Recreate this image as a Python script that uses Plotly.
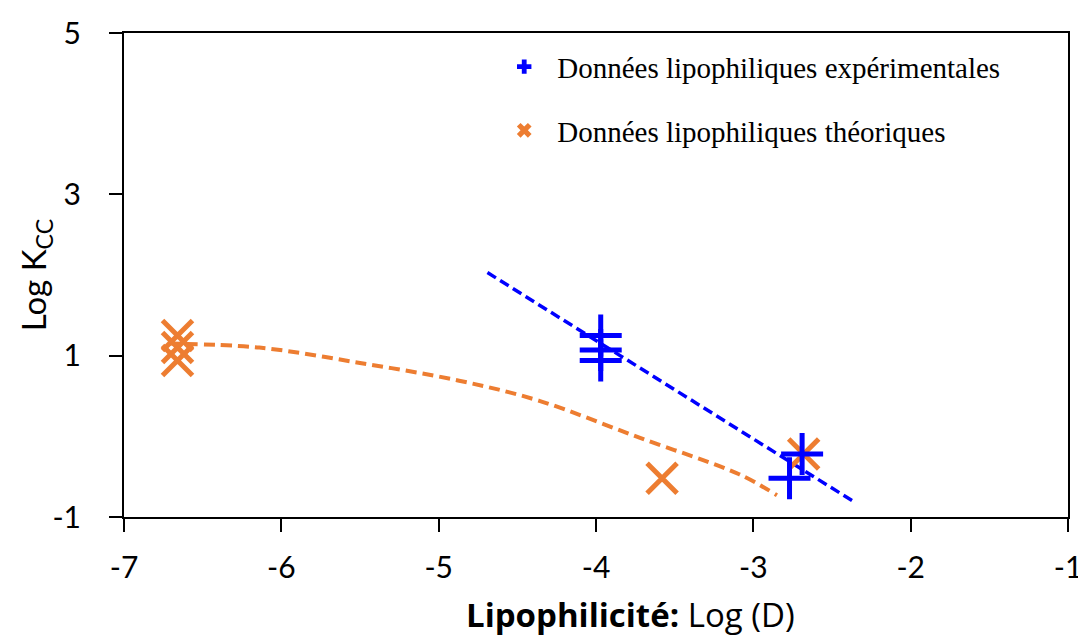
import plotly.graph_objects as go

# measured values
exp_x = [-3.97, -3.97, -3.97, -2.77, -2.69]
exp_y = [1.25, 1.07, 0.94, -0.52, -0.22]
theo_x = [-6.66, -6.66, -6.66, -3.58, -2.68]
theo_y = [1.25, 1.10, 0.94, -0.52, -0.22]

# trend lines
exp_fit_x = [-4.69, -2.37]
exp_fit_y = [2.03, -0.80]
theo_fit_x = [-6.71, -6.14, -5.50, -4.87, -4.36, -3.72, -3.09, -2.85]
theo_fit_y = [1.15, 1.10, 0.91, 0.69, 0.44, -0.02, -0.47, -0.73]

x_ticks = [-7, -6, -5, -4, -3, -2, -1]
x_tick_labels = ["-7", "-6", "-5", "-4", "-3", "-2", "-1"]
y_ticks = [-1, 1, 3, 5]
y_tick_labels = ["-1", "1", "3", "5"]

BLUE = "#0000FF"
ORANGE = "#ED7D31"
SANS = "Lato, 'Open Sans', sans-serif"
WIDE_SANS = "'Open Sans', Lato, sans-serif"
SERIF = "'Liberation Serif', 'Times New Roman', serif"

fig = go.Figure()

fig.add_scatter(
    x=theo_fit_x, y=theo_fit_y, mode="lines", line_shape="spline",
    line={"color": ORANGE, "width": 4, "dash": "11px,6px"}, showlegend=False,
)
fig.add_scatter(
    x=exp_fit_x, y=exp_fit_y, mode="lines",
    line={"color": BLUE, "width": 3.5, "dash": "10px,5px"}, showlegend=False,
)
fig.add_scatter(
    x=theo_x, y=theo_y, mode="markers", showlegend=False,
    marker={"symbol": "x-thin", "size": 30, "line": {"color": ORANGE, "width": 5}},
)
fig.add_scatter(
    x=exp_x, y=exp_y, mode="markers", showlegend=False,
    marker={"symbol": "cross-thin", "size": 30, "line": {"color": BLUE, "width": 5}},
)

# legend entries
fig.add_scatter(
    x=[None], y=[None], mode="markers", name="Données lipophiliques expérimentales",
    legendgroup="a", marker={"symbol": "cross", "size": 12, "color": BLUE, "line": {"width": 0}},
)
fig.add_scatter(
    x=[None], y=[None], mode="markers", name="Données lipophiliques théoriques",
    legendgroup="b", marker={"symbol": "x", "size": 13, "color": ORANGE, "line": {"width": 0}},
)

axis_common = dict(
    showline=True, linecolor="black", linewidth=2, mirror=True,
    ticks="outside", ticklen=13, tickwidth=2, tickcolor="black",
    showgrid=False, zeroline=False, automargin=False,
    tickfont={"family": SANS, "size": 30, "color": "black"},
)

fig.update_xaxes(range=[-7, -1], tickvals=x_ticks, ticktext=x_tick_labels,
                 ticklabelstandoff=10, **axis_common)
fig.update_yaxes(range=[-1, 5], tickvals=y_ticks, ticktext=y_tick_labels,
                 ticklabelstandoff=22, **axis_common)

# the page adds an 8px body margin, so the figure is 8px smaller
fig.update_layout(
    template="none",
    width=1078, height=629,
    margin={"l": 116, "r": 18, "t": 25, "b": 120},
    paper_bgcolor="white", plot_bgcolor="white",
    legend={
        "x": 0.389, "y": 0.983, "xanchor": "left", "yanchor": "top",
        "font": {"family": SERIF, "size": 29, "color": "black"},
        "bgcolor": "rgba(0,0,0,0)", "traceorder": "grouped", "tracegroupgap": 23,
        "itemwidth": 56,
    },
    annotations=[
        dict(
            text="<b>Lipophilicité:</b> Log (D)", xref="paper", yref="paper",
            x=0.537, y=-0.201, xanchor="center", yanchor="middle", showarrow=False,
            font={"family": WIDE_SANS, "size": 33, "color": "black"},
        ),
        dict(
            text="Log K<sub>CC</sub>", xref="paper", yref="paper", textangle=-90,
            x=-0.094, y=0.5, xanchor="center", yanchor="middle", showarrow=False,
            font={"family": SANS, "size": 33, "color": "black"},
        ),
    ],
)

fig.write_html("out.html")
